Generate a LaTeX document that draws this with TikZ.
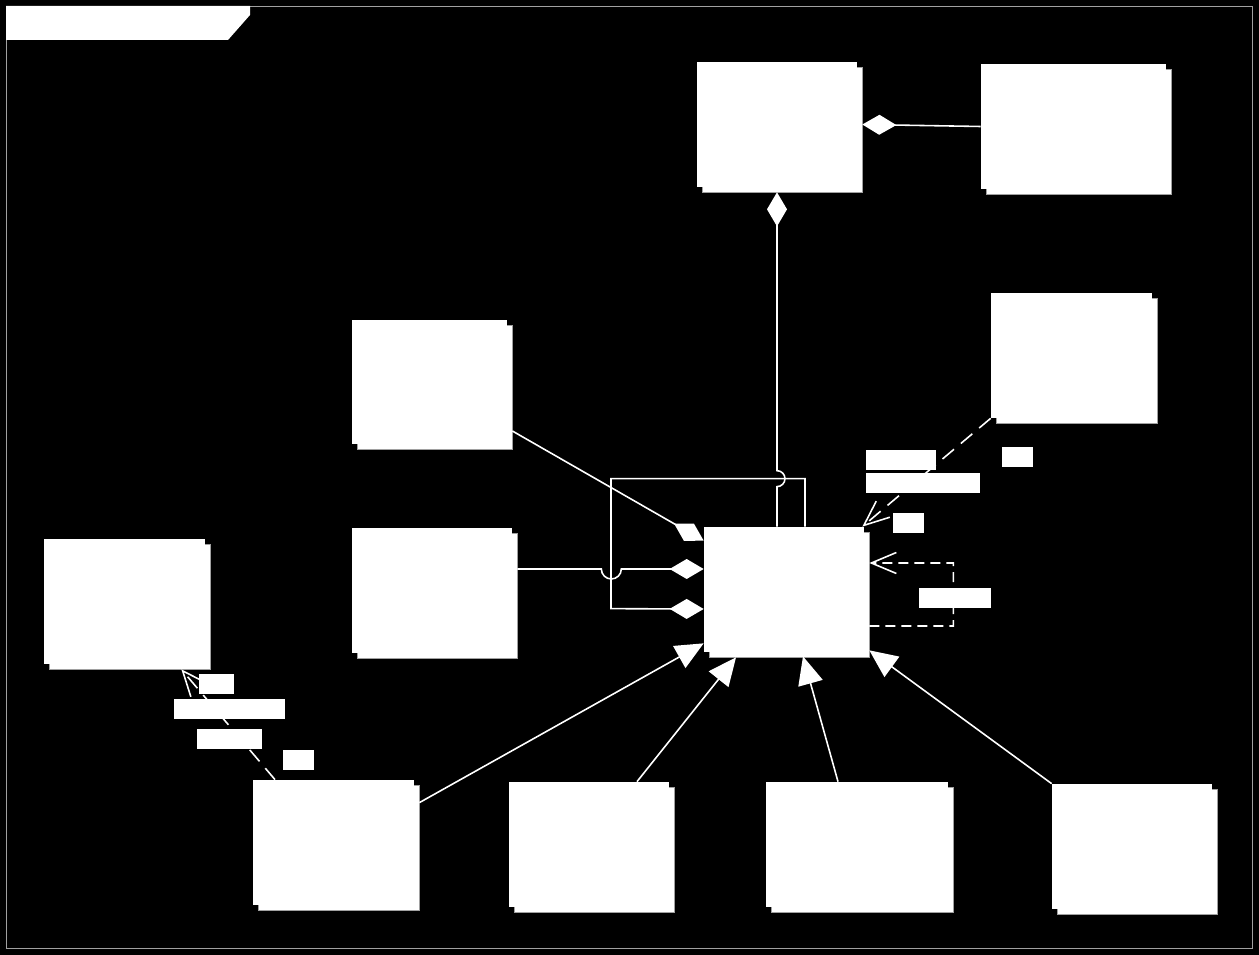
\documentclass[tikz,border=0pt]{standalone}
\usepackage{tikz}
\usetikzlibrary{arrows.meta,shadows}
\definecolor{edge}{RGB}{160,160,160}

\begin{document}
\begin{tikzpicture}[x=0.02cm, y=-0.02cm,
    cls/.style={fill=white, draw=none, inner sep=0pt,
      minimum width=3.2cm, minimum height=2.5cm,
      drop shadow={shadow xshift=0.1cm, shadow yshift=-0.1cm, fill=white, draw=edge, line width=0.3pt, opacity=1}},
    lbl/.style={fill=white, inner sep=0pt, minimum height=0.4cm},
    conn/.style={white, line width=0.9pt},
    comp/.style={conn, -{Diamond[length=0.68cm, width=0.4cm, fill=white]}},
    gen/.style={conn, -{Triangle[length=0.56cm, width=0.5cm, fill=white]}},
    dep/.style={conn, dash pattern=on 0.3cm off 0.18cm, -{Straight Barb[length=0.5cm, width=0.42cm]}}]
        \fill[black] (0,0) rectangle (1259,955);
        \useasboundingbox (0,0) rectangle (1259,955);
        \draw[edge, line width=0.5pt] (6,6) rectangle (1252,948);
        \fill[white] (6,6) -- (250,6) -- (250,15) -- (228,40) -- (6,40) -- cycle;

        \node[cls] (whole) at (777,124.5) {};
        \node[cls, minimum width=3.7cm] (part) at (1073.5,126.5) {};
        \node[cls, minimum width=3.22cm] (supplier) at (1071.5,355.5) {};
        \node[cls, minimum width=3.1cm, minimum height=2.48cm] (assocA) at (429.5,382) {};
        \node[cls] (assocB) at (432,590.5) {};
        \node[cls, minimum width=3.22cm] (client) at (124.5,601.5) {};
        \node[cls] (core) at (784,589.5) {};
        \node[cls, minimum width=3.22cm] (subA) at (333.5,842.5) {};
        \node[cls] (subB) at (589,844.5) {};
        \node[cls, minimum width=3.64cm] (subC) at (857,844.5) {};
        \node[cls] (subD) at (1132,846.5) {};

        \draw[comp] (part.west) -- ([xshift=0.1cm]whole.east);
        \draw[comp] (core.north -| whole.south) -- ++(0,-40)
            arc[start angle=-90, end angle=90, radius=0.16cm] -- ([yshift=-0.1cm]whole.south);
        \draw[comp] ([xshift=0.42cm]core.north) -- ++(0,-48) -| ++(-194,130) -- ([yshift=-0.39cm]core.west);
        \draw[comp] ([xshift=0.1cm,yshift=0.43cm]assocB.east) -- ++(84,0)
            arc[start angle=180, end angle=360, radius=0.2cm] -- ([yshift=0.41cm]core.west);
        \draw[comp] ([xshift=0.1cm,yshift=-0.98cm]assocA.east) -- ([yshift=-0.28cm]core.north west);

        \draw[dep] (supplier.south west) -- ([xshift=-0.04cm]core.north east);
        \draw[dep, dash pattern=on 0.2cm off 0.12cm] ([xshift=0.1cm,yshift=-0.73cm]core.east) -- ++(84,0)
            -- ++(0,-63) -- ([xshift=0.1cm,yshift=0.53cm]core.east);
        \draw[dep] ([xshift=-1.17cm]subA.north) -- ([xshift=-0.48cm,yshift=-0.1cm]client.south east);

        \draw[gen] ([xshift=0.1cm,yshift=-0.46cm]subA.north east) -- ([yshift=0.18cm]core.south west);
        \draw[gen] ([xshift=0.96cm]subB.north) -- ([xshift=-0.96cm,yshift=-0.1cm]core.south);
        \draw[gen] ([xshift=-0.38cm]subC.north) -- ([xshift=0.38cm,yshift=-0.08cm]core.south);
        \draw[gen] (subD.north west) -- ([xshift=0.1cm,yshift=0.04cm]core.south east);

        \node[lbl, minimum width=1.4cm] (m1) at (901,460.5) {};
        \node[lbl, minimum width=2.28cm] (m2) at (923,483) {};
        \node[lbl, minimum width=0.62cm] (m3) at (1017.5,457) {};
        \node[lbl, minimum width=0.62cm] (m4) at (908.5,523) {};
        \node[lbl, minimum width=1.44cm] (m5) at (955,598) {};
        \node[lbl, minimum width=0.7cm] (m6) at (216.5,684) {};
        \node[lbl, minimum width=2.22cm] (m7) at (229.5,709) {};
        \node[lbl, minimum width=1.3cm] (m8) at (229.5,739) {};
        \node[lbl, minimum width=0.62cm] (m9) at (298.5,760) {};
\end{tikzpicture}
\end{document}
